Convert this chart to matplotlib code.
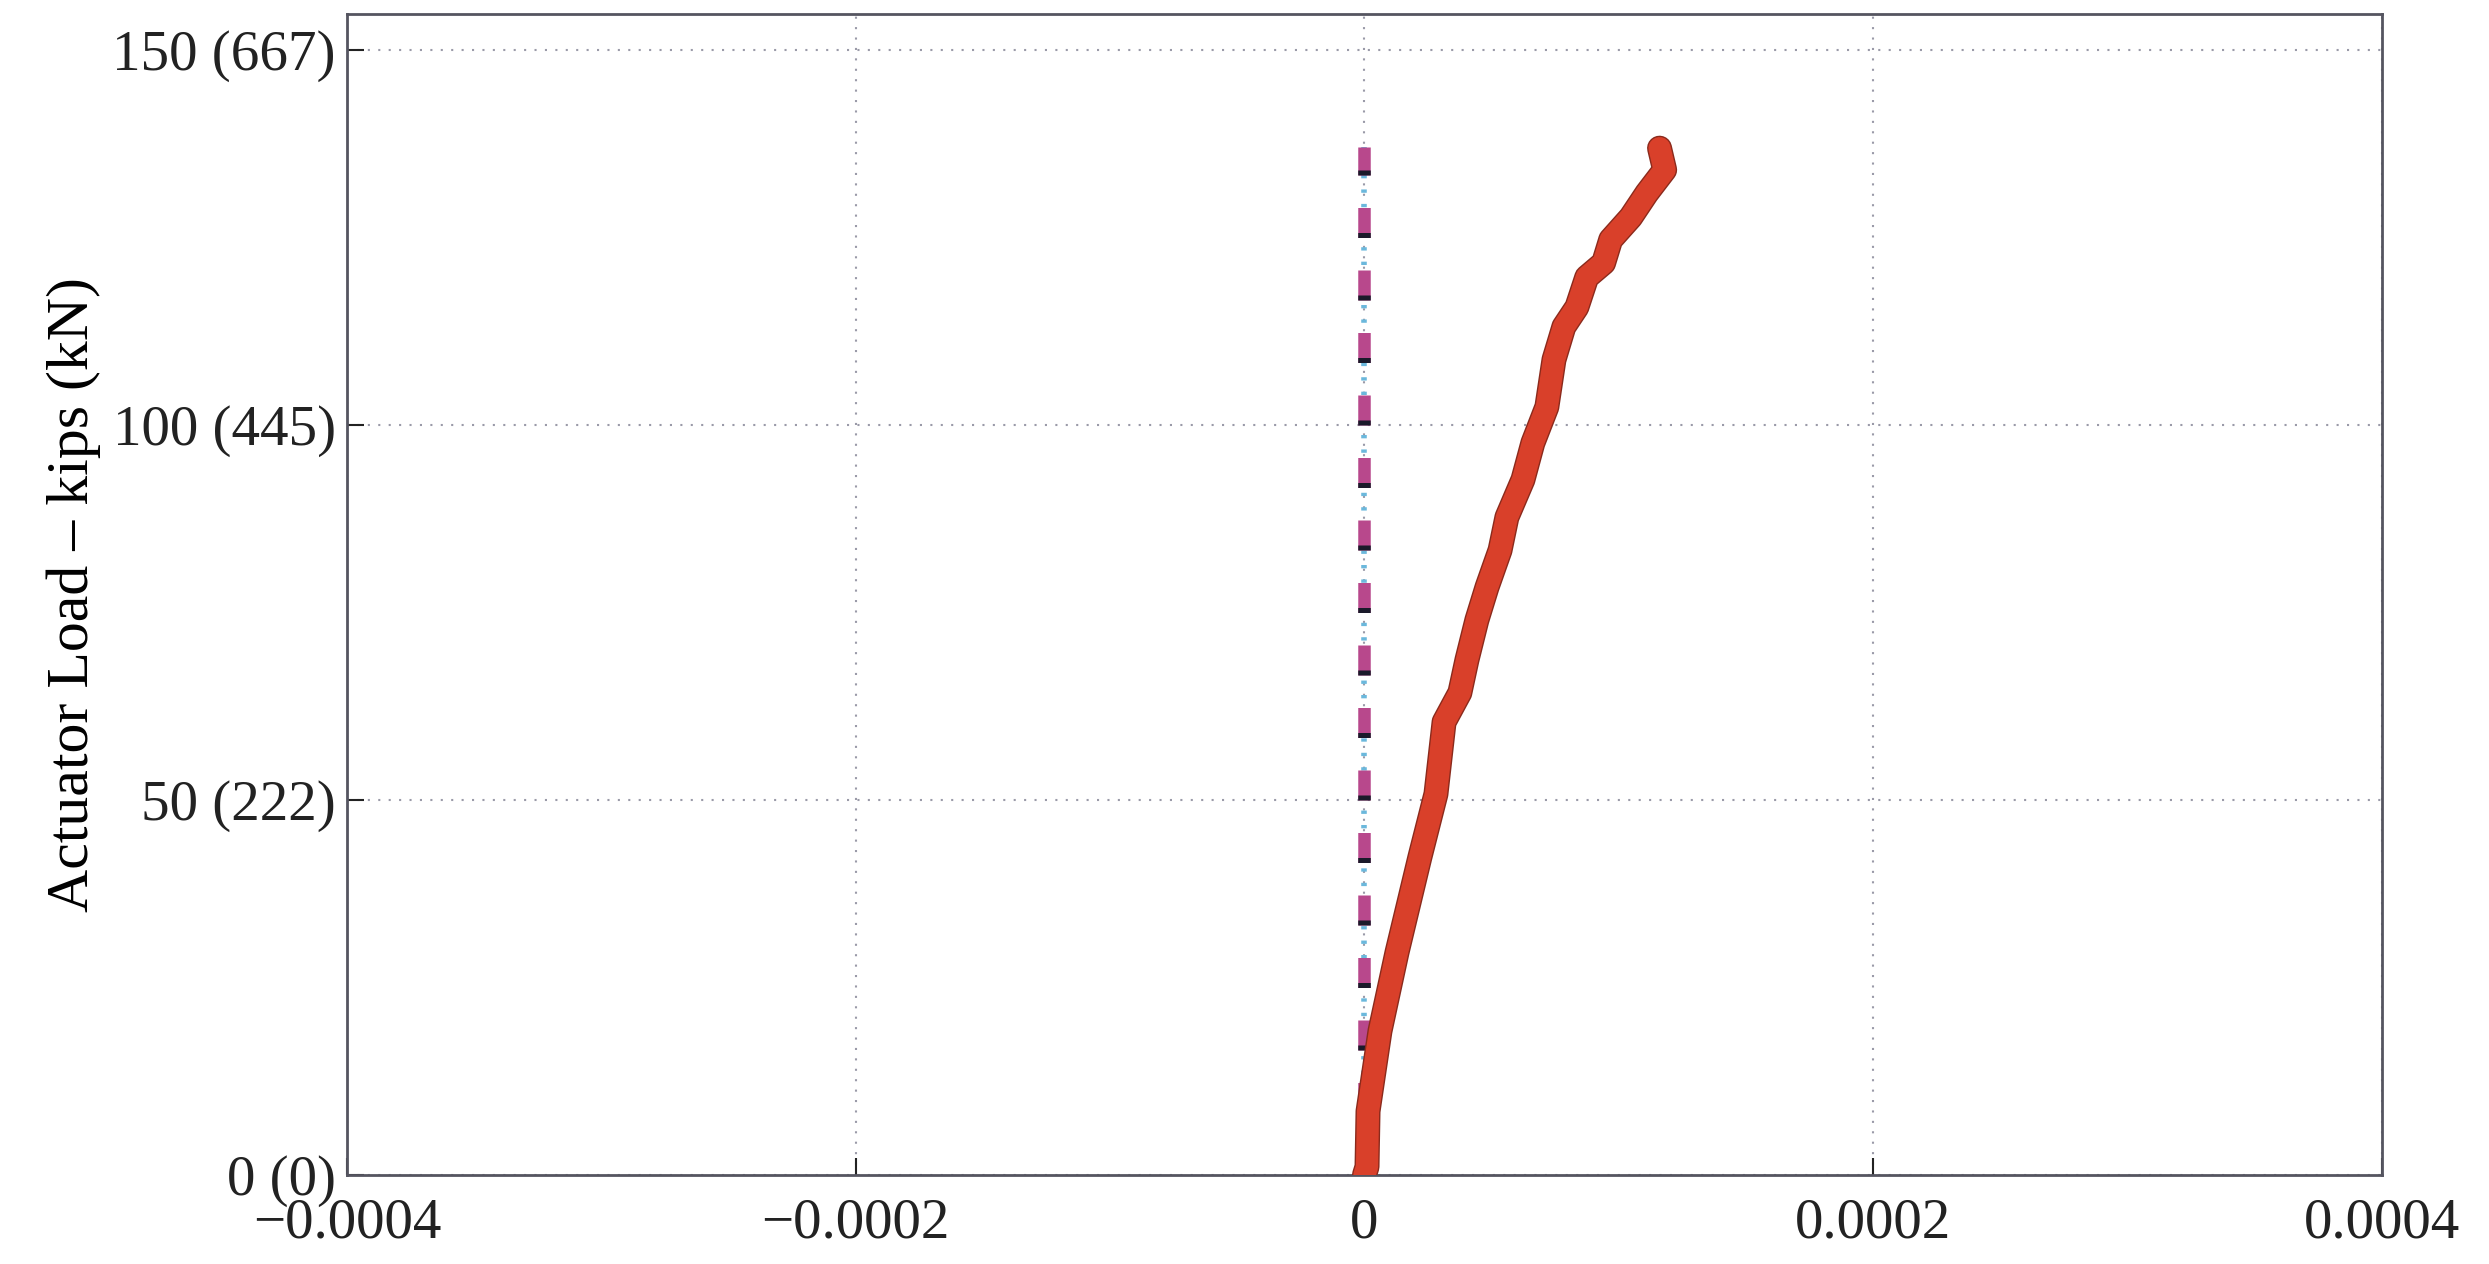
import matplotlib.pyplot as plt
import matplotlib.patheffects as pe

# strain readings of the active gauge (red) against actuator load (kips)
strain_red = [0.0, 1.0e-6, 1.4e-6, 6.1e-6, 1.28e-5, 2.18e-5, 2.81e-5, 3.13e-5,
              3.75e-5, 4.03e-5, 4.42e-5, 4.82e-5, 5.33e-5, 5.6e-5, 6.23e-5,
              6.62e-5, 7.17e-5, 7.45e-5, 7.84e-5, 8.35e-5, 8.74e-5, 9.4e-5,
              9.68e-5, 1.047e-4, 1.11e-4, 1.18e-4, 1.16e-4]
load_red = [0.0, 1.1, 8.5, 19.2, 29.7, 42.4, 50.8, 60.4, 64.3, 68.7, 74.0,
            78.4, 83.3, 87.7, 92.7, 97.6, 102.4, 108.7, 113.1, 115.7, 119.7,
            121.6, 124.7, 127.7, 130.9, 134.0, 136.9]

# the other gauges read zero over the whole loading
strain_zero = [0.0, 0.0]
load_zero = [0.0, 137.0]

yticks = [0, 50, 100, 150]
ytick_labels = ['0 (0)', '50 (222)', '100 (445)', '150 (667)']
xticks = [-0.0004, -0.0002, 0, 0.0002, 0.0004]
xtick_labels = ['\u22120.0004', '\u22120.0002', '0', '0.0002', '0.0004']

plt.rcParams['font.family'] = ['Liberation Serif', 'DejaVu Serif']

fig = plt.figure(figsize=(24.89, 12.64), dpi=100)
ax = fig.add_axes([0.1394, 0.0704, 0.8176, 0.9186])

ax.plot(strain_zero, load_zero, color='#b8488c', lw=9, dashes=(2.4, 2.6), solid_capstyle='butt', zorder=3)
ax.plot(strain_zero, load_zero, color='#1a1a2a', lw=9, dashes=(0.4, 4.6), dash_capstyle='butt', zorder=4)
ax.plot(strain_zero, load_zero, color='#6bb8dc', lw=4, dashes=(0.6, 2.0), zorder=2)

ax.plot(strain_red, load_red, color='#d9402a', lw=16, solid_joinstyle='round', solid_capstyle='round', zorder=5,
        path_effects=[pe.Stroke(linewidth=18, foreground='#8a2a1c'), pe.Normal()])

ax.set_xlim(-0.0004, 0.0004)
ax.set_ylim(0, 154.8)
ax.set_xticks(xticks)
ax.set_xticklabels(xtick_labels)
ax.set_yticks(yticks)
ax.set_yticklabels(ytick_labels)
ax.tick_params(direction='in', length=12, width=1.5, labelsize=41, colors='#222222')
ax.tick_params(axis='x', pad=16)
ax.tick_params(axis='y', pad=8)
ax.grid(True, linestyle=(0, (1, 4)), color='#9a9aa8', linewidth=1.5)
ax.set_ylabel('Actuator Load \u2013 kips (kN)', fontsize=43, labelpad=8)
for s in ax.spines.values():
    s.set_color('#555560')
    s.set_linewidth(2)

fig.savefig('out.png', dpi=100)
